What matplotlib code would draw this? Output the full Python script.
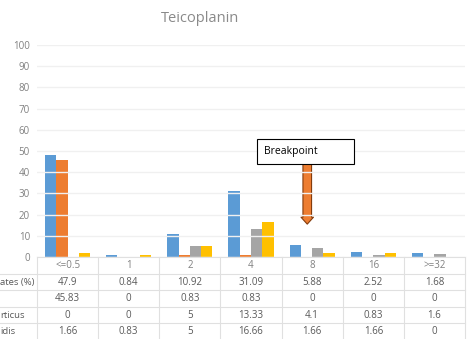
import matplotlib.pyplot as plt
from matplotlib.lines import Line2D
from matplotlib.patches import Rectangle
from matplotlib.transforms import blended_transform_factory

plt.rcParams['font.family'] = ['Open Sans', 'DejaVu Sans']

# MIC categories and the four table rows
mic = ['<=0.5', '1', '2', '4', '8', '16', '>=32']
row_names = ['ates (%)', '', 'rticus', 'idis']
isolates = [47.9, 0.84, 10.92, 31.09, 5.88, 2.52, 1.68]
row2 = [45.83, 0, 0.83, 0.83, 0, 0, 0]
row3 = [0, 0, 5, 13.33, 4.1, 0.83, 1.6]
row4 = [1.66, 0.83, 5, 16.66, 1.66, 1.66, 0]
series = [isolates, row2, row3, row4]
colors = ['#5b9bd5', '#ed7d31', '#a5a5a5', '#ffc000']

W, H = 474, 339
fig = plt.figure(figsize=(W / 100, H / 100), dpi=100)
ax = fig.add_axes([37 / W, (H - 257) / H, 428 / W, 212 / H])

x = list(range(len(mic)))
w = 0.185
for k, (vals, c) in enumerate(zip(series, colors)):
    ax.bar([i + (k - 1.5) * w for i in x], vals, width=w, color=c, lw=0, zorder=1)

ax.set_xlim(-0.5, len(mic) - 0.5)
ax.set_ylim(0, 100)
ax.set_yticks(range(0, 101, 10))
ax.set_xticks([])
ax.set_axisbelow(False)
ax.yaxis.grid(True, color='#f0f0f0', lw=1)
ax.tick_params(axis='y', length=0, pad=5, labelsize=7, labelcolor='#808080')
for s in ax.spines.values():
    s.set_visible(False)

# breakpoint callout
ax.add_patch(Rectangle((3.09, 44), 1.59, 11.7, fc='white', ec='black', lw=0.8, zorder=4))
ax.text(3.22, 49.9, 'Breakpoint', ha='left', va='center', fontsize=7.5, color='black', zorder=5)
ax.annotate('', xy=(3.92, 15.5), xytext=(3.92, 44),
            arrowprops=dict(arrowstyle='simple,head_width=0.9,head_length=0.5,tail_width=0.62',
                            fc='#ed7d31', ec='#843c0c', lw=0.8, shrinkA=0, shrinkB=0,
                            mutation_scale=10), zorder=1)

fig.text(200 / W, 1 - 18 / H, 'Teicoplanin', ha='center', va='center', fontsize=10.5, color='#8a8a8a')

# data table under the plot
tr = blended_transform_factory(ax.transData, fig.transFigure)
line_c = '#e0e0e0'
row_px = [265.7, 282.2, 298.6, 315.0, 331.4]
edge_px = [257, 273.5, 290, 306.5, 323]

for i, lab in enumerate(mic):
    ax.text(i, 1 - row_px[0] / H, lab, transform=tr, ha='center', va='center',
            fontsize=7, color='#808080', clip_on=False)
for r, vals in enumerate(series):
    y = 1 - row_px[r + 1] / H
    fig.text(0.5 / W, y, row_names[r], ha='left', va='center', fontsize=6.8, color='#595959')
    for i, v in enumerate(vals):
        ax.text(i, y, f'{v:g}', transform=tr, ha='center', va='center',
                fontsize=7, color='#595959', clip_on=False)

fig.add_artist(Line2D([-0.5, len(mic) - 0.5], [1 - edge_px[0] / H] * 2, transform=tr, color=line_c, lw=0.8))
for e in edge_px[1:]:
    fig.add_artist(Line2D([0, 465 / W], [1 - e / H] * 2, transform=fig.transFigure, color=line_c, lw=0.8))
for b in range(len(mic) + 1):
    fig.add_artist(Line2D([b - 0.5, b - 0.5], [1 - edge_px[0] / H, 0], transform=tr, color=line_c, lw=0.8))

fig.savefig('out.png', dpi=100)
